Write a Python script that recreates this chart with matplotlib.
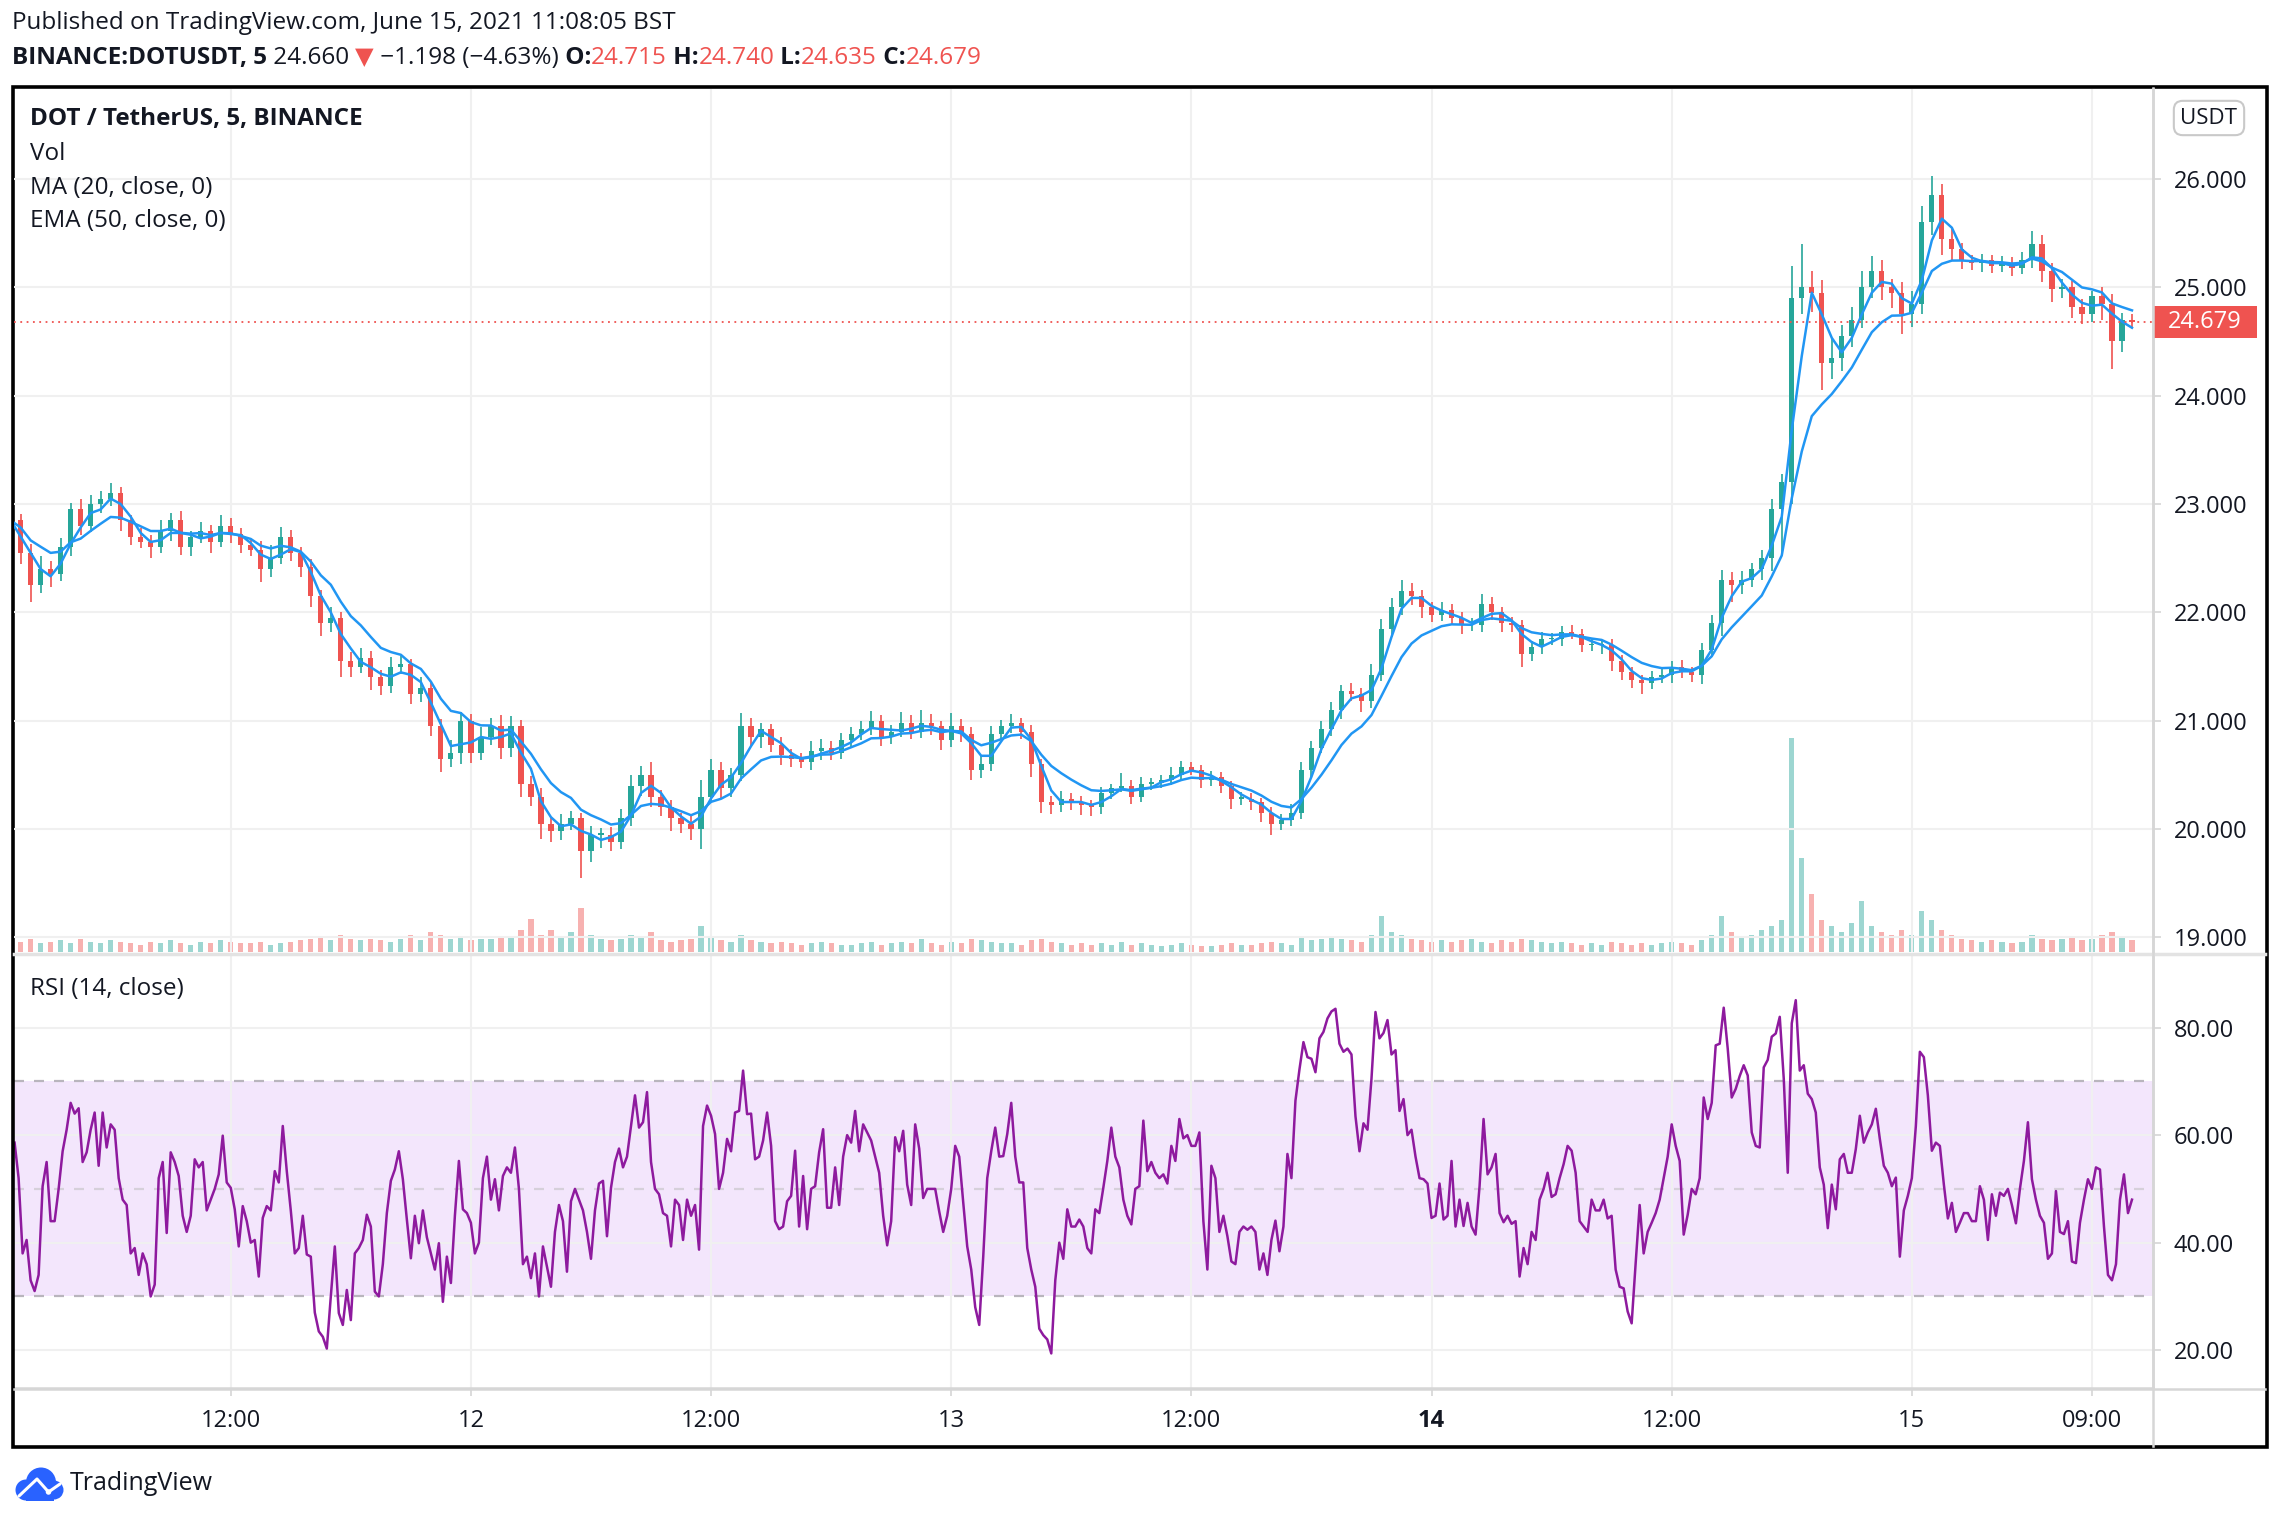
import matplotlib
matplotlib.use('Agg')

import matplotlib.pyplot as plt
from matplotlib.patches import Rectangle, Circle
from matplotlib.lines import Line2D
from matplotlib.text import Annotation
import numpy as np
import pandas as pd

plt.rcParams['font.family'] = ['Open Sans', 'DejaVu Sans']

# time is in hours after 11 June 00:00; candles are 30 min
first_hour = 1.0
candle_step = 0.5
first_open = 22.95
close = [
	22.85, 22.55, 22.25, 22.4, 22.35, 22.6, 22.95, 22.8, 23.0, 23.05, 23.1, 22.85,
	22.7, 22.65, 22.6, 22.75, 22.85, 22.6, 22.7, 22.75, 22.65, 22.8, 22.72, 22.62,
	22.58, 22.4, 22.5, 22.7, 22.55, 22.42, 22.15, 21.9, 21.95, 21.55, 21.5, 21.58,
	21.4, 21.32, 21.5, 21.52, 21.25, 21.3, 20.95, 20.65, 20.7, 21.0, 20.7, 20.85,
	20.95, 20.75, 20.95, 20.42, 20.3, 20.05, 19.98, 20.05, 20.1, 19.8, 19.95, 19.95,
	19.88, 20.1, 20.4, 20.5, 20.3, 20.2, 20.1, 20.05, 20.0, 20.3, 20.55, 20.38,
	20.5, 20.95, 20.85, 20.92, 20.78, 20.68, 20.65, 20.62, 20.72, 20.75, 20.7, 20.82,
	20.88, 20.92, 21.0, 20.85, 20.9, 20.98, 20.9, 20.98, 20.95, 20.82, 20.95, 20.88,
	20.55, 20.6, 20.88, 20.95, 20.98, 20.9, 20.6, 20.25, 20.22, 20.28, 20.25, 20.22,
	20.2, 20.33, 20.38, 20.4, 20.3, 20.42, 20.43, 20.45, 20.5, 20.57, 20.55, 20.45,
	20.48, 20.4, 20.28, 20.28, 20.25, 20.15, 20.05, 20.08, 20.15, 20.55, 20.75, 20.92,
	21.1, 21.27, 21.25, 21.18, 21.42, 21.85, 22.05, 22.2, 22.15, 22.05, 21.98, 22.02,
	21.95, 21.88, 21.88, 22.08, 22.0, 21.9, 21.88, 21.62, 21.68, 21.75, 21.75, 21.82,
	21.8, 21.7, 21.7, 21.7, 21.55, 21.45, 21.38, 21.35, 21.4, 21.42, 21.5, 21.45,
	21.42, 21.65, 21.9, 22.3, 22.25, 22.3, 22.4, 22.5, 22.95, 23.2, 24.9, 25.0,
	24.95, 24.3, 24.35, 24.55, 24.7, 25.0, 25.15, 25.0, 24.95, 24.75, 24.85, 25.6,
	25.85, 25.45, 25.35, 25.25, 25.22, 25.25, 25.2, 25.22, 25.18, 25.25, 25.4, 25.15,
	24.98, 25.0, 24.82, 24.75, 24.92, 24.85, 24.5, 24.7, 24.68,
]
# wick lengths above / below the body, in cents
wick_up = [
	10, 6, 8, 12, 7, 9, 6, 10, 8, 7, 9, 6,
	5, 8, 6, 10, 7, 9, 5, 8, 6, 10, 7, 6,
	6, 8, 12, 9, 6, 5, 7, 6, 10, 5, 8, 9,
	6, 7, 9, 8, 5, 10, 6, 7, 12, 8, 6, 9,
	8, 10, 9, 6, 7, 8, 6, 9, 7, 5, 8, 6,
	7, 9, 10, 8, 12, 6, 7, 5, 8, 15, 10, 7,
	6, 12, 8, 6, 5, 7, 6, 5, 9, 8, 6, 7,
	6, 8, 9, 5, 6, 10, 7, 12, 8, 5, 12, 7,
	6, 8, 7, 6, 8, 5, 6, 5, 6, 7, 5, 6,
	5, 6, 4, 12, 5, 6, 4, 5, 7, 6, 5, 4,
	6, 5, 4, 6, 5, 4, 5, 6, 8, 7, 6, 8,
	7, 6, 8, 5, 10, 9, 8, 10, 7, 6, 5, 8,
	6, 5, 7, 9, 6, 5, 6, 5, 6, 7, 6, 5,
	6, 5, 6, 4, 5, 6, 5, 4, 6, 8, 5, 6,
	5, 7, 8, 9, 7, 8, 6, 8, 10, 8, 30, 40,
	15, 12, 18, 10, 12, 15, 14, 10, 8, 10, 12, 15,
	18, 10, 9, 6, 5, 6, 5, 7, 6, 8, 12, 8,
	7, 8, 6, 7, 5, 8, 9, 6, 5,
]
wick_dn = [
	8, 10, 15, 7, 12, 6, 8, 9, 6, 8, 7, 10,
	8, 6, 10, 5, 9, 7, 8, 6, 10, 5, 8, 7,
	6, 12, 7, 5, 8, 9, 10, 12, 8, 15, 10, 6,
	12, 8, 6, 7, 10, 8, 9, 12, 8, 10, 9, 6,
	7, 10, 8, 12, 9, 14, 10, 8, 6, 25, 10, 12,
	8, 6, 7, 9, 10, 8, 12, 9, 10, 18, 6, 10,
	8, 6, 8, 10, 7, 9, 8, 6, 7, 8, 6, 5,
	7, 6, 5, 8, 6, 5, 7, 6, 8, 9, 6, 8,
	10, 8, 6, 5, 6, 7, 12, 10, 8, 6, 7, 9,
	8, 6, 5, 4, 7, 5, 6, 5, 4, 6, 5, 7,
	5, 7, 9, 6, 7, 8, 10, 6, 5, 6, 7, 5,
	6, 8, 7, 10, 6, 5, 8, 7, 8, 10, 7, 6,
	6, 8, 5, 6, 7, 8, 6, 12, 7, 6, 5, 6,
	5, 7, 6, 8, 9, 7, 8, 10, 6, 5, 7, 6,
	6, 8, 5, 12, 15, 8, 7, 10, 12, 40, 20, 15,
	18, 25, 15, 12, 10, 8, 10, 12, 14, 18, 12, 10,
	12, 15, 10, 8, 6, 8, 7, 6, 8, 6, 7, 10,
	12, 8, 10, 9, 7, 15, 25, 10, 6,
]
volume = [
	8, 7, 9, 6, 7, 8, 6, 9, 7, 6, 8, 7,
	6, 5, 7, 6, 8, 6, 5, 7, 6, 8, 7, 6,
	6, 7, 5, 6, 7, 8, 9, 10, 8, 12, 9, 8,
	9, 8, 7, 9, 12, 8, 14, 12, 9, 10, 8, 9,
	9, 10, 11, 15, 23, 12, 15, 10, 14, 30, 12, 9,
	8, 9, 12, 10, 14, 8, 7, 8, 9, 18, 10, 8,
	7, 12, 8, 7, 6, 7, 6, 5, 6, 7, 6, 5,
	5, 6, 7, 5, 6, 7, 6, 9, 6, 5, 7, 6,
	9, 8, 7, 6, 6, 5, 8, 9, 7, 6, 5, 6,
	5, 6, 5, 7, 5, 6, 5, 4, 5, 6, 5, 4,
	4, 5, 6, 5, 5, 6, 7, 6, 5, 10, 8, 9,
	10, 9, 8, 7, 12, 25, 14, 12, 9, 8, 7, 8,
	7, 8, 9, 7, 6, 8, 7, 9, 8, 7, 6, 7,
	6, 5, 6, 5, 7, 6, 5, 6, 5, 6, 7, 6,
	5, 8, 12, 25, 14, 10, 12, 15, 18, 22, 147, 65,
	40, 22, 18, 14, 20, 35, 18, 14, 12, 15, 12, 28,
	22, 15, 12, 9, 8, 7, 8, 7, 6, 7, 12, 9,
	8, 9, 10, 8, 9, 12, 14, 10, 8,
]

# RSI(14) of the 5 min chart, read every 12 min
rsi_first_hour = 1.2
rsi_step = 0.2
rsi = [
	58.6, 52, 38, 40.5, 33, 31, 34, 50.5, 55, 44, 44, 50, 57, 61, 66, 64, 65, 55, 56.8, 61,
	64.2, 54.3, 64.2, 57.7, 62, 61, 52, 48, 47, 38, 39, 34, 38, 36, 30, 32.2, 52, 55, 41.8, 56.8,
	55, 52.4, 45, 42, 45, 55.5, 54, 55, 46, 48, 50, 52.7, 59.9, 51.2, 50.2, 46.2, 39.3, 46.8, 44, 40,
	40.5, 33.7, 44.6, 46.8, 46, 53.3, 51.2, 61.7, 53.3, 46, 38, 39, 45, 37.8, 37.4, 27, 23.5, 22.5, 20.3, 30,
	39.3, 26.9, 24.7, 31.2, 25.6, 38, 39, 40.5, 45.2, 43, 30.9, 30, 36, 45.5, 51.5, 53.6, 57, 51.8, 44.3, 37.1,
	45, 39.9, 46, 41, 38, 35, 39.9, 29, 37.4, 32.5, 45, 55.2, 46.2, 45.5, 43.7, 38, 40, 52, 56, 48,
	51.8, 46, 52.4, 54, 53, 57.7, 50, 36, 37.4, 33.4, 38, 30, 39.3, 35.6, 31.8,
	42, 47, 44, 34.6, 47.7, 50, 48, 46, 42, 37, 46, 51, 51.5, 41.2, 50.2, 55, 57.5, 54, 56, 61.7,
	67.4, 61.4, 62.4, 68, 55, 50, 49, 45.5, 45, 39.3, 48, 47, 40.5, 48, 45, 47, 38.7, 61.7, 65.5, 63.6,
	60.2, 50, 53, 59.3, 57, 64.2, 64.5, 72, 63.9, 64, 55.5, 56, 59, 64.2, 58, 44, 42.5, 43, 47.7, 48.7,
	57.1, 43, 52.4, 42.5, 50, 50.5, 56.8, 61.1, 46.5, 46.5, 54, 47, 56, 60, 58.6, 64.5, 57, 62, 60.5, 59,
	56, 53, 45, 39.5, 44, 59.6, 57, 60.8, 50.8, 47, 62, 57.5, 48.3, 50, 50, 50, 45.8, 42, 45, 50,
	58, 56, 47.5, 39.3, 35, 28, 24.7, 37.4, 52, 57, 61.4, 56, 56.1, 60.2, 66, 56, 51.2, 51.2, 39, 35,
	31.8, 24, 22.8, 22, 19.4, 33, 40, 37, 46.2, 43, 43, 44.3, 43, 39, 38,
	46.2, 45.5, 50.2, 55.2, 61.4, 56, 54, 48, 45, 43.4, 50, 50.5, 62.7, 53.3, 55, 53, 52, 52.7, 51, 58,
	55.2, 63, 59.4, 60, 58, 58, 60.5, 44, 35, 54.3, 52, 42, 45, 41.2, 36.5, 36, 42, 43, 42.4, 43,
	42, 35, 38, 34, 40.5, 44.1, 38.4, 43, 56.5, 52, 66.4, 72.2, 77.3, 74.5, 74.2, 71.7, 78, 79.2, 81.7, 83,
	83.5, 77, 75.5, 76.1, 75, 63.5, 57, 62.2, 61, 70.5, 82.9, 78, 79, 81.4, 75, 75.8, 64.5, 66.7, 60, 61,
	56, 52, 51.8, 51, 44.6, 45, 51, 44.3, 45, 55.2, 43, 48, 43.1, 47.4, 43, 41.5, 50.5, 63, 52.7, 54,
	56.5, 45.5, 43.8, 45, 43.5, 44, 33.7, 39, 36, 42, 40.5, 48, 50, 53, 48.5, 49, 52, 54.6, 58, 57.1,
	53, 44, 43, 42, 48, 46, 46, 48, 44.5, 45, 35, 31.8, 31.5, 27.2, 25,
	36.2, 47, 38, 42, 43.7, 45.5, 48, 52, 56, 62, 58, 55.2, 41.5, 45.2, 50, 49, 52, 67, 63, 66,
	76.7, 77, 83.7, 76.1, 67, 68.6, 71, 73, 71.1, 60.5, 58, 57.7, 72.6, 74, 78.3, 78.9, 82, 70.5, 53, 80.8,
	85.1, 72, 73, 67.7, 66.7, 64.2, 54, 50.8, 42.7, 50.8, 46.2, 55.5, 56.5, 53, 53, 57.4, 63.6, 58.6, 60.5, 62,
	64.9, 59.3, 54.3, 53, 50.5, 52.1, 37.4, 46, 48.7, 52, 61.7, 75.5, 74.5, 67.4, 57.1, 58.6, 58, 50.8, 44.5, 47.4,
	42, 43.7, 45.5, 45.5, 44, 44, 50.5, 48, 40.5, 49, 45, 49.3, 48.7, 50, 47, 43.6, 50, 55.2, 62.4, 51.8,
	48, 45, 43.7, 37, 38, 49.6, 42, 41.6, 44, 36.5, 36.2, 43.7, 48, 51.8, 50, 54, 53.6, 43, 34, 33,
	36, 48, 52.7, 45.5, 48,
]

tick_hours = [12, 24, 36, 48, 60, 72, 84, 96, 105]
tick_labels = ['12:00', '12', '12:00', '13', '12:00', '14', '12:00', '15', '09:00']
price_ticks = [19, 20, 21, 22, 23, 24, 25, 26]
rsi_ticks = [20, 40, 60, 80]
last_price = 24.679

GREEN = '#26a69a'
RED = '#ef5350'
BLUE = '#2196f3'
TEXT = '#131722'
GRID = '#f0f0f0'
AXLINE = '#d6d6d6'
FS = 17.5  # main text size

W, H = 2280, 1520


def fx(px):
	return px / W


def fy(py):
	return 1 - py / H


n = min(len(close), len(wick_up), len(wick_dn), len(volume))
close = np.array(close[:n])
hours = first_hour + candle_step * np.arange(n)
opens = np.concatenate([[first_open], close[:-1]])
highs = np.maximum(opens, close) + np.array(wick_up[:n]) / 100
lows = np.minimum(opens, close) - np.array(wick_dn[:n]) / 100
colors = np.where(close >= opens, GREEN, RED)

# 20 / 50 bars of 5 min ~ 3 / 8 bars of 30 min
ma = pd.Series(close).rolling(3, min_periods=1).mean()
ema = pd.Series(close).ewm(span=8, adjust=False).mean()

rsi_hours = rsi_first_hour + rsi_step * np.arange(len(rsi))

fig = plt.figure(figsize=(W / 100, H / 100), dpi=100)
fig.patch.set_facecolor('white')

ax = fig.add_axes([fx(14), fy(952), fx(2153) - fx(14), fy(89) - fy(952)])
ax_rsi = fig.add_axes([fx(14), fy(1388), fx(2153) - fx(14), fy(955) - fy(1388)])
axv = ax.twinx()
ax.set_zorder(axv.get_zorder() + 1)
ax.patch.set_visible(False)

xmin, xmax = 1.17, 108.05

# volume
axv.bar(hours, volume[:n], width=0.26, color=colors, alpha=0.45, linewidth=0)
axv.set_ylim(0, max(volume) / 0.2475)
axv.set_xlim(xmin, xmax)
axv.set_axis_off()

# candles
ax.vlines(hours, lows, highs, colors=colors, linewidth=1.2, zorder=3)
body_h = np.maximum(np.abs(close - opens), 0.012)
ax.bar(hours, body_h, bottom=np.minimum(opens, close), width=0.26, color=colors, linewidth=0, zorder=3)
ax.plot(hours, ma, color=BLUE, lw=1.8, zorder=4)
ax.plot(hours, ema, color=BLUE, lw=1.8, zorder=4)
ax.axhline(last_price, color=RED, lw=1.3, ls=(0, (1, 2.5)), zorder=5)

ax.set_xlim(xmin, xmax)
ax.set_ylim(18.866, 26.83)
ax.set_xticks(tick_hours)
ax.set_yticks(price_ticks)
ax.set_yticklabels([f'{p:.3f}' for p in price_ticks])
ax.yaxis.tick_right()
ax.tick_params(axis='y', length=6, width=1.2, color=AXLINE, pad=9, labelsize=FS - 0.5, labelcolor=TEXT)
ax.tick_params(axis='x', length=0, labelbottom=False)
ax.grid(True, color=GRID, lw=1.5, zorder=0)
for s in ['top', 'left', 'bottom']:
	ax.spines[s].set_visible(False)
ax.spines['right'].set_color(AXLINE)
ax.spines['right'].set_linewidth(1.8)

# last price tag
ytr = ax.get_yaxis_transform()
ax.add_patch(Rectangle((1.0, last_price - 0.148), 0.0486, 0.296, transform=ytr,
					   facecolor=RED, edgecolor='none', clip_on=False, zorder=6))
ax.text(1.0243, last_price, f'{last_price:.3f}', transform=ytr, ha='center', va='center',
		color='white', fontsize=FS - 0.5, zorder=7, clip_on=False)

# RSI pane
ax_rsi.axhspan(30, 70, color='#f3e6fc', zorder=0, lw=0)
ax_rsi.plot(rsi_hours, rsi, color='#8e1a9e', lw=1.8, zorder=3)
for lvl, col in [(70, '#b9b5bd'), (30, '#b9b5bd'), (50, '#d6d0da')]:
	ax_rsi.axhline(lvl, color=col, lw=1.6, ls=(0, (4.5, 4.5)), zorder=2)
ax_rsi.set_xlim(xmin, xmax)
ax_rsi.set_ylim(12.97, 93.5)
ax_rsi.set_yticks(rsi_ticks)
ax_rsi.set_yticklabels([f'{v:.2f}' for v in rsi_ticks])
ax_rsi.yaxis.tick_right()
ax_rsi.tick_params(axis='y', length=6, width=1.2, color=AXLINE, pad=9, labelsize=FS - 0.5, labelcolor=TEXT)
ax_rsi.set_xticks(tick_hours)
ax_rsi.set_xticklabels(tick_labels)
ax_rsi.tick_params(axis='x', length=6, width=1.2, color=AXLINE, pad=9, labelsize=FS - 0.5, labelcolor=TEXT)
for lbl in ax_rsi.get_xticklabels():
	if lbl.get_text() == '14':
		lbl.set_fontweight('bold')
ax_rsi.grid(True, color=GRID, lw=1.5, zorder=0)
for s in ['top', 'left']:
	ax_rsi.spines[s].set_visible(False)
ax_rsi.spines['bottom'].set_color(AXLINE)
ax_rsi.spines['bottom'].set_linewidth(1.8)
ax_rsi.spines['right'].set_color(AXLINE)
ax_rsi.spines['right'].set_linewidth(1.8)

# pane separators, axis line through the time strip, outer frame
fig.add_artist(Line2D([fx(14), fx(2265)], [fy(953.5), fy(953.5)], color='#e3e3e3', lw=2.5))
fig.add_artist(Line2D([fx(14), fx(2265)], [fy(1389), fy(1389)], color=AXLINE, lw=1.8))
fig.add_artist(Line2D([fx(2153), fx(2153)], [fy(88), fy(1446)], color=AXLINE, lw=1.8))
fig.add_artist(Rectangle((fx(13), fy(1447)), fx(2267) - fx(13), fy(87) - fy(1447),
						 transform=fig.transFigure, fill=False, lw=2.6, ec='black'))

# pane legends
fig.text(fx(30), fy(119), 'DOT / TetherUS, 5, BINANCE', fontsize=FS, fontweight='bold', color=TEXT, va='center')
fig.text(fx(30), fy(154), 'Vol', fontsize=FS, color=TEXT, va='center')
fig.text(fx(30), fy(188), 'MA (20, close, 0)', fontsize=FS, color=TEXT, va='center')
fig.text(fx(30), fy(221), 'EMA (50, close, 0)', fontsize=FS, color=TEXT, va='center')
fig.text(fx(30), fy(989), 'RSI (14, close)', fontsize=FS, color=TEXT, va='center')

fig.text(fx(2209), fy(118), 'USDT', fontsize=FS - 1.5, color=TEXT, ha='center', va='center',
		 bbox=dict(boxstyle='round,pad=0.3,rounding_size=0.4', fc='white', ec='#c9c9c9', lw=1.5))

# header lines, the second one is built piece by piece
fig.text(fx(12), fy(23), 'Published on TradingView.com, June 15, 2021 11:08:05 BST',
		 fontsize=FS, color=TEXT, va='center')
pieces = [
	('BINANCE:DOTUSDT, 5', 'bold', TEXT),
	(' 24.660 ', 'normal', TEXT),
	('▼', 'normal', RED),
	(' −1.198 (−4.63%)', 'normal', TEXT),
	(' O:', 'bold', TEXT), ('24.715', 'normal', RED),
	(' H:', 'bold', TEXT), ('24.740', 'normal', RED),
	(' L:', 'bold', TEXT), ('24.635', 'normal', RED),
	(' C:', 'bold', TEXT), ('24.679', 'normal', RED),
]
anchor = fig.text(fx(12), fy(58), pieces[0][0], fontsize=FS, fontweight=pieces[0][1],
				  color=pieces[0][2], va='center')
for txt, wt, col in pieces[1:]:
	anchor = fig.add_artist(Annotation(
		txt, xy=(1, 0), xycoords=anchor, xytext=(0, 0), textcoords='offset points',
		fontsize=FS, fontweight=wt, color=col, va='bottom', ha='left', annotation_clip=False))

# TradingView logo
lax = fig.add_axes([fx(14), fy(1502), fx(50), fy(1466) - fy(1502)])
lax.set_xlim(0, 10)
lax.set_ylim(0, 7.2)
lax.set_aspect('equal')
lax.set_axis_off()
for cx, cy, r in [(2.4, 2.4, 2.1), (5.4, 3.9, 3.0), (8.0, 2.4, 1.9)]:
	lax.add_patch(Circle((cx, cy), r, color='#2962ff', lw=0))
lax.add_patch(Rectangle((2.4, 0.3), 5.6, 2.5, color='#2962ff', lw=0))
lax.plot([1.0, 4.6, 6.9, 9.2], [1.2, 4.6, 2.0, 3.6], color='white', lw=2.2, solid_capstyle='round')
lax.add_patch(Circle((6.9, 2.0), 0.55, color='white', lw=0))
fig.text(fx(70), fy(1483), 'TradingView', fontsize=FS + 0.5, color=TEXT, va='center')

fig.savefig('out.png', dpi=100, facecolor='white')
